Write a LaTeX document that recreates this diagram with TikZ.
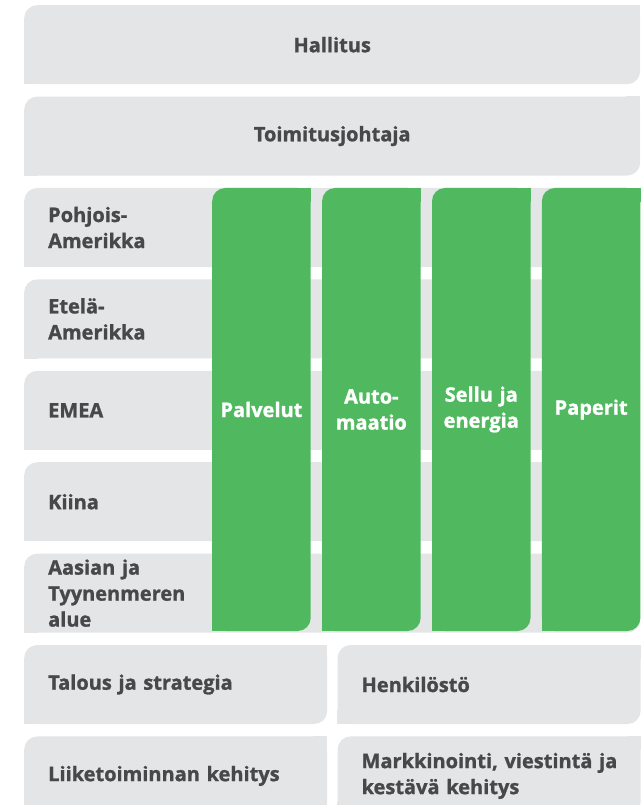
\documentclass[tikz,border=0pt]{standalone}
\usepackage{fontspec}
\setmainfont{Open Sans}[BoldFeatures={FakeBold=1.2}]
\usepackage{tikz}
\usepackage{xcolor}
\usetikzlibrary{positioning}
\definecolor{box-gray}{HTML}{E4E5E7}
\definecolor{box-green}{HTML}{50B95F}
\definecolor{label-gray}{HTML}{48484B}
\tikzset{
    org-font/.style = {font=\bfseries\fontsize{20}{26}\selectfont},
    gray-box/.style = {fill=box-gray, rounded corners=13pt, inner sep=0pt, inner xsep=24pt, minimum height=79pt, text=label-gray, org-font, align=left, text width=#1},
    title-box/.style = {gray-box=568pt, align=center},
    green-box/.style = {fill=box-green, rounded corners=13pt, inner sep=0pt, minimum height=443pt, text width=98.5pt, text=white, org-font, align=center, anchor=north west},
}

\begin{document}
\begin{tikzpicture}[x=1pt, y=1pt]
\useasboundingbox (0,0) rectangle (643,-805);

\node [title-box, anchor=north west] (hallitus) at (24,-5) {Hallitus};
\node [title-box, below=12pt of hallitus] (toimitusjohtaja) {Toimitusjohtaja};
\node [gray-box=568pt, below=12pt of toimitusjohtaja] (pohjois) {Pohjois-\\Amerikka};
\node [gray-box=568pt, below=12pt of pohjois] (etela) {Etelä-\\Amerikka};
\node [gray-box=568pt, below=12pt of etela] (emea) {EMEA};
\node [gray-box=568pt, below=12pt of emea] (kiina) {Kiina};
\node [gray-box=568pt, below=12pt of kiina] (aasia) {Aasian ja\\Tyynenmeren\\alue};
\node [gray-box=255pt, below=12pt of aasia.south west, anchor=north west] (talous) {Talous ja strategia};
\node [gray-box=255pt, right=10pt of talous] (henkilosto) {Henkilöstö};
\node [gray-box=255pt, below=12pt of talous] (liiketoiminta) {Liiketoiminnan kehitys};
\node [gray-box=255pt, below=12pt of henkilosto] (markkinointi) {\mbox{Markkinointi, viestintä ja}\\kestävä kehitys};

\foreach \n in {hallitus, toimitusjohtaja, pohjois, etela, emea, kiina, aasia, talous, henkilosto, liiketoiminta, markkinointi} {
    \fill [box-gray] (\n.south west) rectangle ++(14pt,14pt);
    \fill [box-gray] (\n.north east) rectangle ++(-14pt,-14pt);
}

\node [green-box] (palvelut) at ([xshift=188pt]pohjois.north west) {Palvelut};
\node [green-box, right=11pt of palvelut.north east, anchor=north west] (automaatio) {Auto-\\maatio};
\node [green-box, right=11pt of automaatio.north east, anchor=north west] (sellu) {Sellu ja\\energia};
\node [green-box, right=11pt of sellu.north east, anchor=north west] (paperit) {Paperit};

\foreach \n in {palvelut, automaatio, sellu, paperit} {
    \fill [box-green] (\n.south west) rectangle ++(14pt,14pt);
    \fill [box-green] (\n.north east) rectangle ++(-14pt,-14pt);
}
\end{tikzpicture}
\end{document}
